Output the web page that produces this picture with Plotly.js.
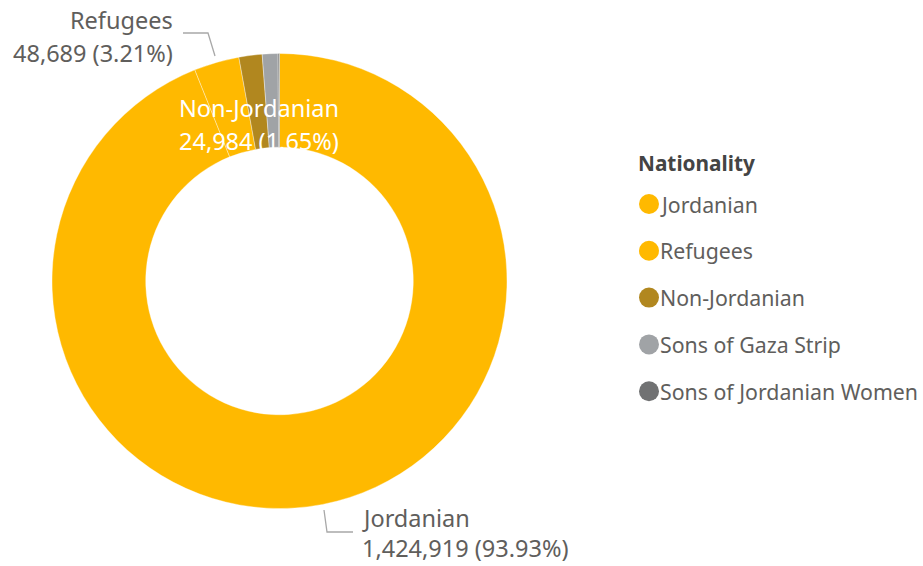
<!DOCTYPE html>
<html><head><meta charset="utf-8">
<script src="https://cdn.plot.ly/plotly-3.0.1.min.js"></script>
<style>html,body{margin:0;padding:0;background:#fff}#c{width:923px;height:566px}</style>
</head><body><div id="c"></div>
<script>
const categories = ["Jordanian","Refugees","Non-Jordanian","Sons of Gaza Strip","Sons of Jordanian Women"];
const values = [1424919, 48689, 24984, 16900, 1508];
const colors = ["#FFB900","#FFB900","#B1871F","#A0A3A6","#717273"];
const legendTitle = "Nationality";

const W = 923, H = 566;
const total = values.reduce((a,b)=>a+b,0);
const fmt = v => v.toLocaleString('en-US');
const pct = v => (v/total*100).toFixed(2) + '%';
const px = x => x / W, py = y => 1 - y / H;
const txtColor = "#605E5C";
const font = "'Noto Sans', 'Open Sans', sans-serif";

const cx = 279.5, cy = 281, R = 227.5;
const data = [{
  type: 'pie', labels: categories, values: values, sort: false,
  direction: 'clockwise', rotation: 0, hole: 0.588,
  marker: {colors: colors, line: {color: 'rgba(255,255,255,0.6)', width: 0.6}},
  textinfo: 'none', hoverinfo: 'label+value+percent', showlegend: false,
  domain: {x: [px(cx - R), px(cx + R)], y: [py(cy + R), py(cy - R)]}
}];

const ann = [];
function addText(t, x, y, anchor, color, size, bold) {
  ann.push({text: bold ? '<b>' + t + '</b>' : t, x: px(x), y: py(y), xref: 'paper', yref: 'paper',
    xanchor: anchor, yanchor: 'middle', showarrow: false,
    font: {family: font, size: size, color: color}});
}
const LS = 23.5, GS = 21.3;
// Outside labels
addText(categories[1], 175, 20, 'right', txtColor, LS);
addText(fmt(values[1]) + ' (' + pct(values[1]) + ')', 175, 53, 'right', txtColor, LS);
addText(categories[0], 360, 518, 'left', txtColor, LS);
addText(fmt(values[0]) + ' (' + pct(values[0]) + ')', 360, 548, 'left', txtColor, LS);
// Inside label
addText(categories[2], 259, 108, 'center', '#FFFFFF', LS);
addText(fmt(values[2]) + ' (' + pct(values[2]) + ')', 259, 141, 'center', '#FFFFFF', LS);

const shapes = [
  {type: 'path', xref: 'paper', yref: 'paper',
   path: `M ${px(183)} ${py(33)} L ${px(208)} ${py(33)} L ${px(215)} ${py(56)}`,
   line: {color: '#A8A8A8', width: 1.3}},
  {type: 'path', xref: 'paper', yref: 'paper',
   path: `M ${px(324)} ${py(510)} L ${px(327)} ${py(532)} L ${px(353)} ${py(532)}`,
   line: {color: '#A8A8A8', width: 1.3}}
];

// Legend
addText(legendTitle, 636, 163, 'left', '#444444', 20.8, true);
const ly0 = 204, lgap = 46.8;
categories.forEach((c, i) => {
  const y = ly0 + i * lgap;
  shapes.push({type: 'circle', xref: 'paper', yref: 'paper',
    x0: px(639), x1: px(659), y0: py(y + 10), y1: py(y - 10),
    fillcolor: colors[i], line: {width: 0}});
  addText(c, 658, y, 'left', txtColor, GS);
});

const layout = {
  width: W, height: H, margin: {l: 0, r: 0, t: 0, b: 0},
  paper_bgcolor: '#fff', showlegend: false,
  annotations: ann, shapes: shapes, font: {family: font}
};
Plotly.newPlot('c', data, layout, {displayModeBar: false, staticPlot: true});
</script></body></html>
